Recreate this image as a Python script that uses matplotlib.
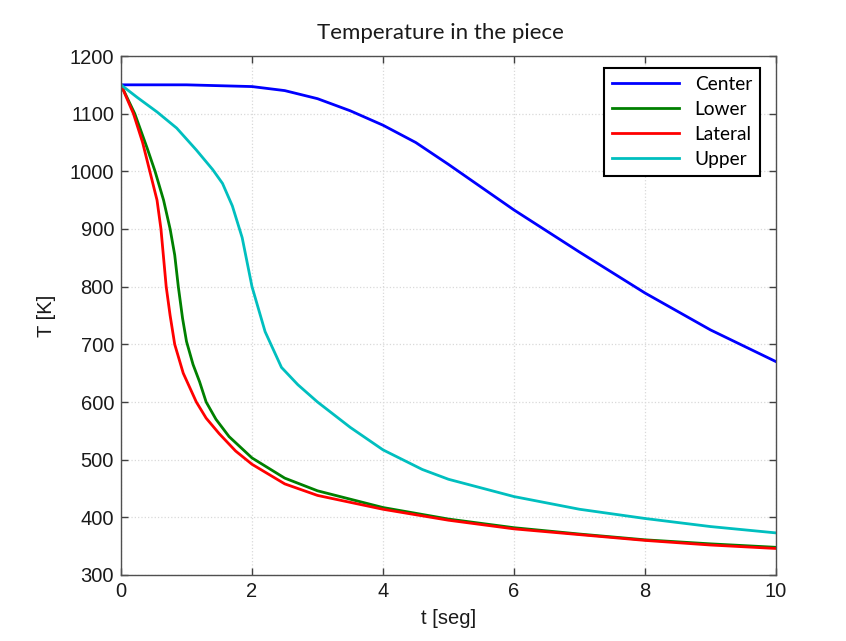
import matplotlib
matplotlib.use("Agg")
import matplotlib.pyplot as plt

# Data
t_center = [0, 1, 2, 2.5, 3, 3.5, 4, 4.5, 5, 6, 7, 8, 9, 10]
T_center = [1150, 1150, 1147, 1140, 1126, 1105, 1080, 1050, 1012, 933, 860, 789, 725, 670]

t_lower = [0, 0.21, 0.4, 0.52, 0.65, 0.75, 0.82, 0.875, 0.94, 1.0, 1.1, 1.2, 1.3, 1.45, 1.65, 2, 2.5, 3, 4, 5, 6, 7, 8, 9, 10]
T_lower = [1150, 1100, 1040, 1000, 950, 900, 855, 800, 745, 705, 665, 635, 600, 570, 540, 503, 468, 446, 417, 397, 382, 371, 361, 354, 348]

t_lateral = [0, 0.19, 0.33, 0.44, 0.55, 0.61, 0.65, 0.69, 0.75, 0.82, 0.95, 1.05, 1.15, 1.3, 1.5, 1.75, 2, 2.5, 3, 4, 5, 6, 7, 8, 9, 10]
T_lateral = [1150, 1100, 1050, 1000, 950, 900, 850, 800, 750, 700, 650, 625, 600, 572, 545, 515, 492, 458, 438, 414, 395, 380, 370, 360, 352, 346]

t_upper = [0, 0.25, 0.55, 0.85, 1.15, 1.4, 1.55, 1.7, 1.85, 2.0, 2.2, 2.45, 2.7, 3.0, 3.5, 4, 4.6, 5, 6, 7, 8, 9, 10]
T_upper = [1150, 1128, 1103, 1075, 1037, 1003, 979, 940, 885, 800, 722, 660, 630, 600, 556, 517, 483, 466, 436, 414, 398, 384, 373]

x_ticks = [0, 2, 4, 6, 8, 10]
y_ticks = [300, 400, 500, 600, 700, 800, 900, 1000, 1100, 1200]

fig = plt.figure(figsize=(8.46, 6.41), dpi=100)
ax = fig.add_axes([121/846, 1-575/641, (776-121)/846, (575-56)/641])

lw = 2.0
ax.plot(t_center, T_center, color=(0, 0, 1), lw=lw, label="Center")
ax.plot(t_lower, T_lower, color=(0, 0.5, 0), lw=lw, label="Lower")
ax.plot(t_lateral, T_lateral, color=(1, 0, 0), lw=lw, label="Lateral")
ax.plot(t_upper, T_upper, color=(0, 0.75, 0.75), lw=lw, label="Upper")

ax.set_xlim(0, 10)
ax.set_ylim(300, 1200)
ax.set_xticks(x_ticks)
ax.set_yticks(y_ticks)
ax.grid(True, color="#d9d9d9", linestyle=":", linewidth=0.9)
ax.tick_params(direction="in", top=True, right=True, length=5, width=1, color="#404040",
               labelsize=14.5, labelcolor="#1a1a1a", pad=5)
for lab in ax.get_xticklabels() + ax.get_yticklabels():
    lab.set_family("Liberation Sans")
for s in ax.spines.values():
    s.set_color("#505050")
    s.set_linewidth(1.0)

ax.set_xlabel("t [seg]", fontsize=14.5, family="Liberation Sans", color="#1a1a1a", labelpad=6)
ax.set_ylabel("T [K]", fontsize=14.5, family="Liberation Sans", color="#1a1a1a", labelpad=10)
ax.set_title("Temperature in the piece", fontsize=16, family="Lato", color="#1a1a1a",
             pad=12, x=0.487)

leg = ax.legend(loc="upper right", bbox_to_anchor=(760/846, 1-68/641), bbox_transform=fig.transFigure,
                borderaxespad=0, fancybox=False, framealpha=1, edgecolor="black",
                prop={"family": "Lato", "size": 13.8}, handlelength=3.5, handletextpad=0.8,
                labelspacing=0.42, borderpad=0.42)
leg.get_frame().set_linewidth(1.5)

fig.savefig("out.png", dpi=100)
